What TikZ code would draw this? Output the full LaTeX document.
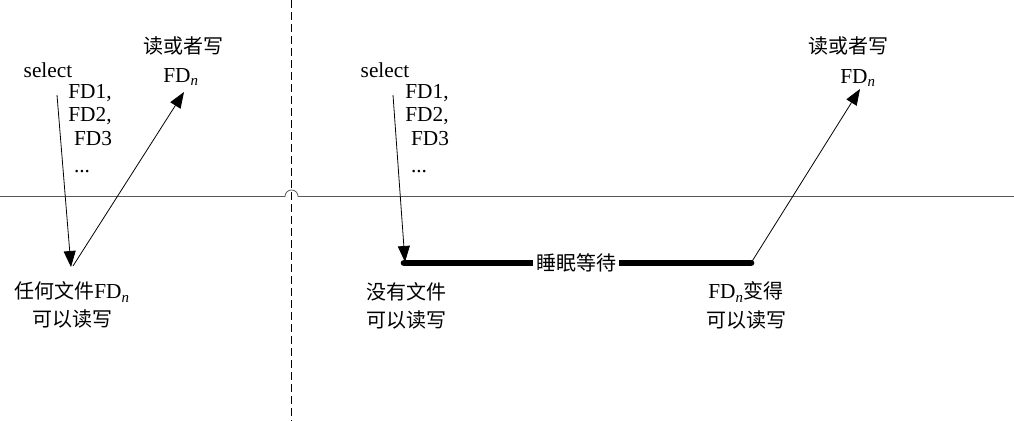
\documentclass[tikz,border=0pt]{standalone}
\usepackage{fontspec}
\setmainfont{Liberation Serif}
\newfontfamily\cjk{Noto Sans CJK SC}
\usetikzlibrary{arrows.meta}
\tikzset{
  lat/.style={inner sep=0pt, anchor=base, font=\fontsize{16}{18}\selectfont},
  zh/.style={inner sep=0pt, font=\fontsize{15}{18}\selectfont\cjk},
  arr/.style={draw, line width=0.6pt, -{Triangle[length=12pt,width=9pt]}},
  heavy/.style={draw, line width=5pt},
}
\newcommand{\FDn}{FD\textsubscript{\itshape n}}
\newcommand{\rmFDn}{{\fontsize{16}{18}\selectfont\rmfamily\FDn}}
\begin{document}
\begin{tikzpicture}[x=0.75pt,y=-0.75pt]
\useasboundingbox (0,0) rectangle (1014,421);
% divider
\draw[line width=0.6pt, dash pattern=on 6pt off 3pt] (291.5,0) -- (291.5,421);
\draw[line width=0.6pt, gray!70!black] (0,196.5) -- (285,196.5) arc[start angle=180,end angle=0,radius=4.9pt] -- (1014,196.5);
% left part
\node[lat] (sel1) at (48,77) {select};
\node[lat] (fa1) at (90,98) {FD1,};
\node[lat] (fb1) at (90,121) {FD2,};
\node[lat] (fc1) at (93,145) {FD3};
\node[lat] (fd1) at (82,172) {...};
\node[zh] (rw1) at (183,46) {读或者写};
\node[lat] (fn1) at (181,82) {\FDn};
\node[zh] (any) at (72,292) {任何文件\rmFDn};
\node[zh] (any2) at (72,319) {可以读写};
\coordinate (s1) at (57,95);
\coordinate (t1) at (71,267);
\coordinate (u1) at (73,266);
\coordinate (v1) at (184,92);
\draw[arr] (s1) -- (t1);
\draw[arr] (u1) -- (v1);
% right part
\node[lat] (sel2) at (385,77) {select};
\node[lat] (fa2) at (427,98) {FD1,};
\node[lat] (fb2) at (427,121) {FD2,};
\node[lat] (fc2) at (430,145) {FD3};
\node[lat] (fd2) at (419,172) {...};
\node[zh] (rw2) at (848,46) {读或者写};
\node[lat] (fn2) at (858,83) {\FDn};
\node[zh] (none) at (406,292) {没有文件};
\node[zh] (none2) at (406,320) {可以读写};
\node[zh] (ready) at (746,292) {\rmFDn 变得};
\node[zh] (ready2) at (746,320) {可以读写};
\coordinate (s2) at (393,95);
\coordinate (t2) at (405,262);
\coordinate (a) at (404,263);
\coordinate (b) at (751,263);
\coordinate (v2) at (860,89);
\draw[arr] (s2) -- (t2);
\draw[heavy, line cap=round] (a) -- (b);
\node[zh, fill=white, inner xsep=2pt, inner ysep=1pt] (sleep) at (576,263) {睡眠等待};
\draw[arr] (b) -- (v2);
\end{tikzpicture}
\end{document}
